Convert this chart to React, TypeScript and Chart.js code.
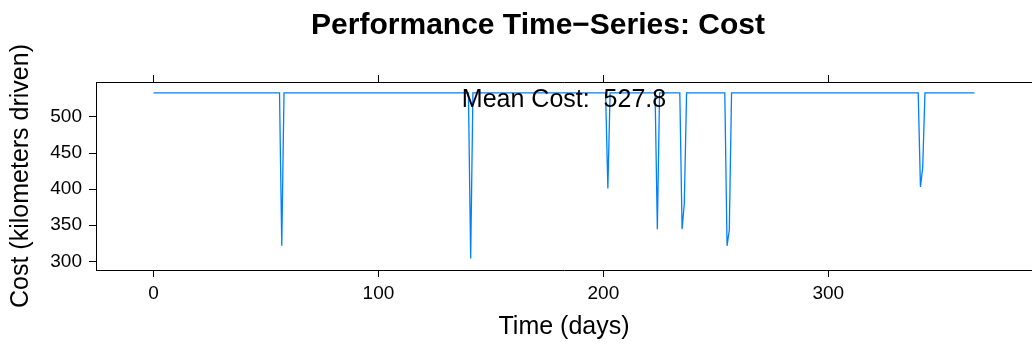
import React, { useEffect, useRef } from "react";
import { Chart, registerables } from "chart.js";

Chart.register(...registerables);

const titleText = "Performance Time\u2212Series: Cost";
const xAxisTitle = "Time (days)";
const yAxisTitle = "Cost (kilometers driven)";
const meanCost = 527.8;

const xTickValues = [0, 100, 200, 300];
const yTickValues = [300, 350, 400, 450, 500];

// vertices of the cost line (day, cost)
const days = [0, 56, 57, 58, 140, 141, 142, 201, 202, 203, 223, 224, 225, 234, 235, 236, 237, 254, 255, 256, 257, 340, 341, 342, 343, 365];
const cost = [533.2, 533.2, 321.5, 533.2, 533.2, 304, 533.2, 533.2, 401, 533.2, 533.2, 344.5, 533.2, 533.2, 344.5, 380, 533.2, 533.2, 321.5, 343, 533.2, 533.2, 403, 430, 533.2, 533.2];

const FONT = '"Liberation Sans", Arial, Helvetica, sans-serif';

export default function App() {
  const ref = useRef<HTMLCanvasElement | null>(null);

  useEffect(() => {
    if (!ref.current) return;
    const points = days.map((d, i) => ({ x: d, y: cost[i] }));

    const textPlugin = {
      id: "texts",
      afterDraw(chart: any) {
        const ctx = chart.ctx;
        const area = chart.chartArea;
        ctx.save();
        ctx.fillStyle = "#000";
        ctx.textAlign = "center";
        ctx.textBaseline = "middle";
        ctx.font = `bold 30px ${FONT}`;
        ctx.fillText(titleText, 538, 26);
        ctx.font = `25px ${FONT}`;
        ctx.fillText(xAxisTitle, (area.left + area.right) / 2, 327);
        ctx.fillText(`Mean Cost:  ${meanCost}`, (area.left + area.right) / 2, 100);
        ctx.translate(21, (area.top + area.bottom) / 2);
        ctx.rotate(-Math.PI / 2);
        ctx.fillText(yAxisTitle, 0, 0);
        ctx.restore();
      },
    };

    const xCommon = {
      type: "linear" as const,
      min: -25.6,
      max: 390.6,
      afterBuildTicks: (s: any) => {
        s.ticks = xTickValues.map((v) => ({ value: v }));
      },
      grid: { drawOnChartArea: false, tickLength: 7, color: "#000", tickWidth: 1 },
      border: { display: true, color: "#000", width: 1 },
    };

    const chart = new Chart(ref.current, {
      type: "line",
      data: {
        datasets: [
          {
            data: points,
            borderColor: "#0080ff",
            borderWidth: 1.3,
            pointRadius: 0,
            fill: false,
            tension: 0,
            xAxisID: "x",
            yAxisID: "y",
          },
        ],
      },
      options: {
        animation: false,
        responsive: false,
        maintainAspectRatio: false,
        layout: { padding: 0 },
        plugins: { legend: { display: false }, title: { display: false }, tooltip: { enabled: false } },
        scales: {
          x: {
            ...xCommon,
            position: "bottom",
            ticks: { color: "#000", font: { family: FONT, size: 19 }, padding: 5, maxRotation: 0 },
            afterFit: (s: any) => {
              s.height = 74;
            },
          },
          xTop: {
            ...xCommon,
            position: "top",
            ticks: { display: false },
            afterFit: (s: any) => {
              s.height = 82;
            },
          },
          y: {
            type: "linear",
            position: "left",
            min: 288,
            max: 548.4,
            afterBuildTicks: (s: any) => {
              s.ticks = yTickValues.map((v) => ({ value: v }));
            },
            grid: { drawOnChartArea: false, tickLength: 7, color: "#000" },
            border: { display: true, color: "#000", width: 1 },
            ticks: { color: "#000", font: { family: FONT, size: 19 }, padding: 7 },
            afterFit: (s: any) => {
              s.width = 96;
            },
          },
        },
      },
      plugins: [textPlugin],
    });
    return () => chart.destroy();
  }, []);

  return (
    <div style={{ position: "absolute", left: 0, top: 0, width: 1032, height: 344, background: "#fff" }}>
      <canvas ref={ref} width={1032} height={344} style={{ width: 1032, height: 344, display: "block" }} />
    </div>
  );
}
